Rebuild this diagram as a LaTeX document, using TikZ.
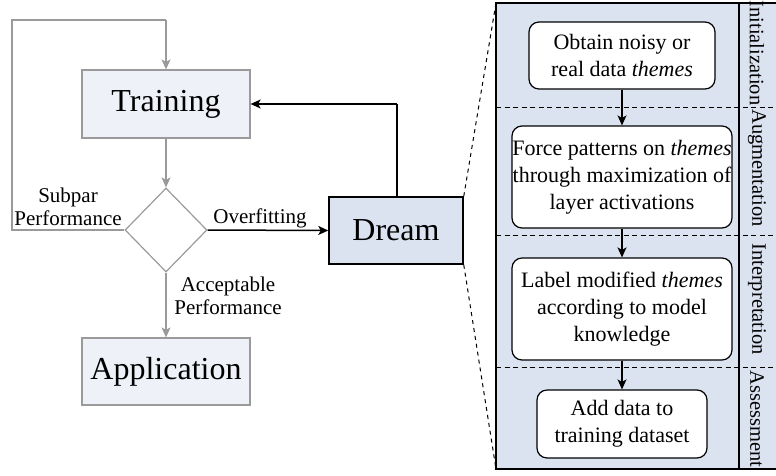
\documentclass[tikz,border=0pt]{standalone}
\usepackage{fontspec}
\setmainfont{Liberation Serif}
\usetikzlibrary{arrows.meta,shapes.geometric,positioning}
\definecolor{lightbox}{HTML}{EEF2F8}
\definecolor{panelblue}{HTML}{DAE3EF}
\definecolor{linegray}{HTML}{9A9A9A}
\begin{document}
\begin{tikzpicture}[x=1pt,y=-1pt,
  bigbox/.style={draw=linegray,line width=1.2pt,fill=lightbox,inner sep=0pt,
    font=\fontsize{32}{36}\selectfont},
  stagebox/.style={draw=black,line width=1.2pt,fill=white,rounded corners=10pt,
    inner sep=0pt,align=center,font=\fontsize{22}{27}\selectfont},
  smalltext/.style={align=center,inner sep=0pt,font=\fontsize{21}{23}\selectfont},
  sidelabel/.style={rotate=-90,inner sep=0pt,font=\fontsize{20.5}{24}\selectfont},
  grayarrow/.style={draw=linegray,line width=1.2pt,
    -{Stealth[length=10pt,width=9pt,inset=2.5pt]}},
  blackarrow/.style={draw=black,line width=1.5pt,
    -{Stealth[length=10pt,width=9pt,inset=2.5pt]}},
  divider/.style={draw=black,line width=1pt,dash pattern=on 5pt off 3.5pt}]
\useasboundingbox (0,0) rectangle (776,475);

% expanded view of the dream step
\fill[panelblue] (496,3) rectangle (790,469);
\draw[divider] (496,107) -- (790,107);
\draw[divider] (496,235) -- (790,235);
\draw[divider] (496,367) -- (790,367);
\draw[line width=2pt] (496,3) rectangle (790,469);
\draw[line width=2pt] (739,3) -- (739,469);

\node[sidelabel] (lInit)   at (757,53)  {Initialization};
\node[sidelabel] (lAug)    at (757,168) {Augmentation};
\node[sidelabel] (lInterp) at (757,299) {Interpretation};
\node[sidelabel] (lAssess) at (757,419) {Assessment};

\node[stagebox,minimum width=186pt,minimum height=67pt] (obtain) at (622,55.5)
  {Obtain noisy or\\real data \emph{themes}};
\node[stagebox,minimum width=220pt,minimum height=102pt] (force) at (622,177)
  {Force patterns on \emph{themes}\\through maximization of\\layer activations};
\node[stagebox,minimum width=220pt,minimum height=102pt] (label) at (622,309)
  {Label modified \emph{themes}\\according to model\\knowledge};
\node[stagebox,minimum width=170pt,minimum height=68pt] (add) at (622,424)
  {Add data to\\training dataset};

\draw[blackarrow] (obtain) -- (force);
\draw[blackarrow] (force) -- (label);
\draw[blackarrow] (label) -- (add);

% main training loop
\node[bigbox,minimum width=168pt,minimum height=68pt] (train) at (166,104) {Training};
\node[draw=linegray,line width=1.2pt,shape=diamond,aspect=1,inner sep=0pt,
  minimum width=82pt,minimum height=84pt] (check) at (166,230) {};
\node[bigbox,minimum width=168pt,minimum height=67pt] (app) at (166,371.5) {Application};
\node[draw=black,line width=1.5pt,fill=panelblue,inner sep=0pt,minimum width=134pt,
  minimum height=67pt,font=\fontsize{32}{36}\selectfont] (dream) at (396,230.5) {Dream};

\coordinate (loopA) at (12,230);
\coordinate (loopB) at (12,20);
\coordinate (loopC) at (166,20);
\draw[draw=linegray,line width=1.2pt] (check.west) -- (loopA) -- (loopB) -- (loopC);
\draw[grayarrow] (loopC) -- (train.north);
\draw[grayarrow] (train) -- (check);
\draw[grayarrow] (check) -- (app);
\draw[blackarrow] (check.east) -- (dream.west);
\coordinate (upturn) at (397,104);
\draw[draw=black,line width=1.5pt] (dream.north -| upturn) -- (upturn);
\draw[blackarrow] (upturn) -- (train.east);

\node[smalltext] (subpar) at (68,207) {Subpar\\Performance};
\node[smalltext,anchor=south] (overfit) at (260,228) {Overfitting};
\node[smalltext] (accept) at (228,296) {Acceptable\\Performance};

% zoom guides from the dream box to its expansion
\coordinate (panelTL) at (496,3);
\coordinate (panelBL) at (496,469);
\draw[line width=1pt,dash pattern=on 4pt off 4pt] (dream.north east) -- (panelTL);
\draw[line width=1pt,dash pattern=on 4pt off 4pt] (dream.south east) -- (panelBL);
\end{tikzpicture}
\end{document}
